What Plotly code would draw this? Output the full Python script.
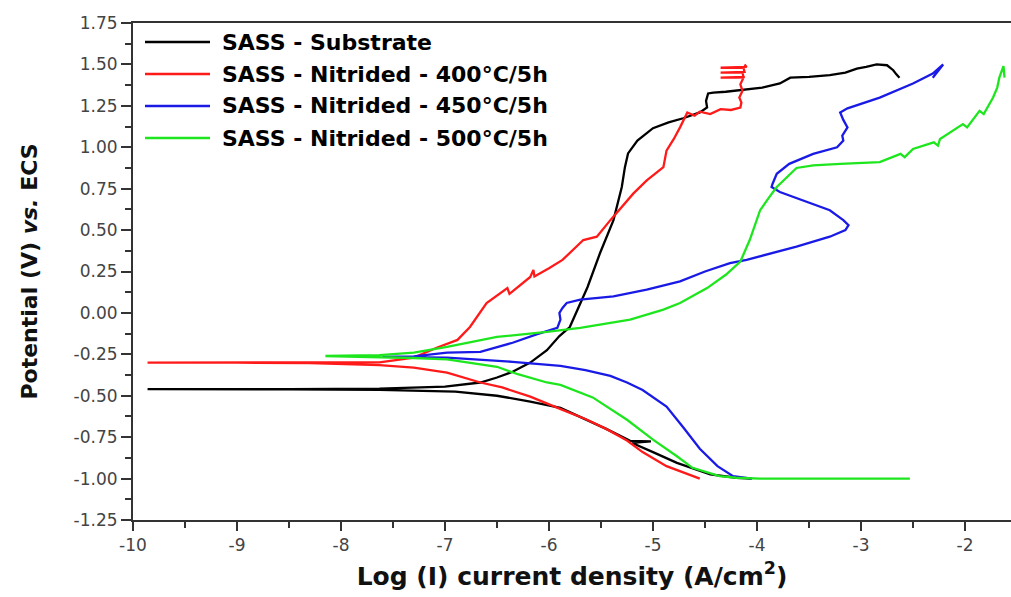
import plotly.graph_objects as go

# ---- data (log current density, potential) ----
series_names = ["SASS - Substrate", "SASS - Nitrided - 400°C/5h",
                "SASS - Nitrided - 450°C/5h", "SASS - Nitrided - 500°C/5h"]
series_colors = ["#000000", "#ff1a1a", "#1a1ae6", "#1ee61e"]

black_x = [-4.05, -4.2, -4.45, -4.77, -5.0, -5.2, -5.02, -5.22, -5.45, -5.7, -5.89, -6.18, -6.5, -6.9,
           -7.3, -7.63, -8.5, -9.2, -9.86, -9.2, -8.5, -7.63, -7.0, -6.66, -6.5, -6.35, -6.18, -6.02,
           -5.9, -5.80, -5.72, -5.63, -5.51, -5.38, -5.30, -5.27, -5.24, -5.15, -5.0, -4.85, -4.71,
           -4.55, -4.48, -4.49, -4.47, -4.42, -4.3, -4.16, -3.95, -3.78, -3.68, -3.5, -3.30, -3.15,
           -3.04, -2.95, -2.85, -2.75, -2.69, -2.66, -2.63]
black_y = [-1.0, -0.995, -0.975, -0.905, -0.84, -0.785, -0.775, -0.772, -0.70, -0.625, -0.573, -0.535,
           -0.50, -0.475, -0.468, -0.464, -0.462, -0.461, -0.46, -0.46, -0.46, -0.457, -0.445, -0.42,
           -0.39, -0.355, -0.30, -0.225, -0.14, -0.085, 0.03, 0.155, 0.36, 0.56, 0.76, 0.88, 0.963,
           1.04, 1.115, 1.15, 1.175, 1.21, 1.24, 1.28, 1.325, 1.33, 1.335, 1.345, 1.36, 1.385, 1.42,
           1.425, 1.435, 1.45, 1.475, 1.485, 1.50, 1.495, 1.465, 1.44, 1.42]

red_x = [-4.55, -4.7, -4.87, -5.10, -5.25, -5.45, -5.65, -5.87, -6.18, -6.45, -6.66, -6.98, -7.3,
         -7.63, -8.3, -9.0, -9.86, -9.0, -8.3, -7.63, -7.3, -7.08, -6.88, -6.76, -6.60, -6.45, -6.40,
         -6.38, -6.28, -6.18, -6.15, -6.14, -6.0, -5.87, -5.67, -5.54, -5.41, -5.30, -5.19, -5.06,
         -4.90, -4.87, -4.80, -4.74, -4.67, -4.60, -4.55, -4.45, -4.35, -4.25, -4.16, -4.15, -4.17,
         -4.14, -4.16, -4.13, -4.35, -4.13, -4.14, -4.35, -4.12, -4.13, -4.35, -4.10, -4.12]
red_y = [-1.0, -0.965, -0.925, -0.84, -0.77, -0.70, -0.64, -0.585, -0.505, -0.45, -0.42, -0.36, -0.33,
         -0.315, -0.303, -0.30, -0.30, -0.30, -0.30, -0.298, -0.27, -0.21, -0.163, -0.085, 0.06, 0.13,
         0.15, 0.115, 0.165, 0.217, 0.26, 0.22, 0.27, 0.32, 0.44, 0.46, 0.56, 0.64, 0.72, 0.80, 0.88,
         0.98, 1.05, 1.12, 1.21, 1.19, 1.215, 1.20, 1.23, 1.225, 1.24, 1.27, 1.30, 1.34, 1.38, 1.42,
         1.42, 1.425, 1.45, 1.45, 1.455, 1.48, 1.48, 1.485, 1.50]

blue_x = [-4.05, -4.23, -4.38, -4.55, -4.71, -4.87, -5.10, -5.25, -5.41, -5.65, -5.89, -6.35, -6.98,
          -7.3, -7.6, -7.3, -6.98, -6.66, -6.35, -6.12, -5.98, -5.92, -5.89, -5.90, -5.87, -5.83,
          -5.70, -5.38, -5.06, -4.74, -4.5, -4.26, -4.10, -3.85, -3.62, -3.30, -3.15, -3.12, -3.17,
          -3.30, -3.52, -3.78, -3.86, -3.85, -3.81, -3.69, -3.46, -3.23, -3.17, -3.18, -3.13, -3.17,
          -3.20, -3.13, -2.82, -2.50, -2.31, -2.21, -2.31]
blue_y = [-1.0, -0.985, -0.925, -0.82, -0.69, -0.565, -0.465, -0.42, -0.38, -0.345, -0.32, -0.295,
          -0.27, -0.266, -0.265, -0.262, -0.24, -0.235, -0.18, -0.13, -0.105, -0.09, -0.04, 0.0, 0.03,
          0.06, 0.08, 0.10, 0.14, 0.19, 0.25, 0.30, 0.32, 0.36, 0.40, 0.46, 0.50, 0.53, 0.56, 0.62,
          0.67, 0.73, 0.76, 0.78, 0.84, 0.90, 0.96, 1.00, 1.04, 1.07, 1.12, 1.165, 1.21, 1.235, 1.30,
          1.385, 1.445, 1.50, 1.42]

green_x = [-2.53, -3.2, -3.97, -4.2, -4.36, -4.62, -4.77, -5.0, -5.25, -5.58, -5.89, -6.02, -6.3,
           -6.50, -6.98, -7.3, -7.63, -8.15, -7.63, -7.3, -6.98, -6.50, -6.02, -5.70, -5.22, -4.90,
           -4.74, -4.48, -4.30, -4.16, -4.07, -3.97, -3.88, -3.81, -3.62, -3.46, -3.2, -2.82, -2.62,
           -2.58, -2.50, -2.30, -2.26, -2.24, -2.02, -1.98, -1.86, -1.82, -1.73, -1.69, -1.67, -1.63,
           -1.62]
green_y = [-1.0, -1.0, -1.0, -0.995, -0.985, -0.935, -0.865, -0.765, -0.645, -0.51, -0.435, -0.42,
           -0.37, -0.325, -0.28, -0.272, -0.268, -0.26, -0.255, -0.24, -0.205, -0.145, -0.115, -0.09,
           -0.04, 0.02, 0.06, 0.15, 0.23, 0.31, 0.44, 0.62, 0.70, 0.76, 0.875, 0.89, 0.90, 0.91, 0.96,
           0.94, 0.99, 1.03, 1.01, 1.05, 1.14, 1.12, 1.22, 1.20, 1.30, 1.36, 1.42, 1.49, 1.42]

x_tick_vals = [-10, -9, -8, -7, -6, -5, -4, -3, -2]
x_tick_labels = ["-10", "-9", "-8", "-7", "-6", "-5", "-4", "-3", "-2"]
y_tick_vals = [-1.25, -1.0, -0.75, -0.5, -0.25, 0.0, 0.25, 0.5, 0.75, 1.0, 1.25, 1.5, 1.75]
y_tick_labels = ["-1.25", "-1.00", "-0.75", "-0.50", "-0.25", "0.00", "0.25", "0.50", "0.75",
                 "1.00", "1.25", "1.50", "1.75"]

xs = [black_x, red_x, blue_x, green_x]
ys = [black_y, red_y, blue_y, green_y]

FONT = "DejaVu Sans"
fig = go.Figure()
for name, col, x, y in zip(series_names, series_colors, xs, ys):
    fig.add_trace(go.Scatter(x=x, y=y, mode="lines", name=name,
                             line=dict(color=col, width=2.3)))

W, H = 1011, 597
ml, mr, mt, mb = 133, 0, 23, 77
pw, ph = W - ml - mr, H - mt - mb

def px_x(p):
    return (p - ml) / pw

def px_y(p):
    return 1 - (p - mt) / ph

# manual legend (top-left, inside plot)
for i, (name, col) in enumerate(zip(series_names, series_colors)):
    yy = px_y(42 + 32 * i)
    fig.add_shape(type="line", xref="paper", yref="paper",
                  x0=px_x(145), x1=px_x(210), y0=yy, y1=yy,
                  line=dict(color=col, width=2.5))
    fig.add_annotation(xref="paper", yref="paper", x=px_x(220), y=yy,
                       xanchor="left", yanchor="middle", showarrow=False,
                       text="<b>%s</b>" % name,
                       font=dict(family=FONT, size=22, color="black"))

axis_common = dict(showgrid=False, zeroline=False, showline=True, linewidth=2,
                   linecolor="#333333", ticks="outside", tickwidth=2, tickcolor="#333333",
                   automargin=False,
                   tickfont=dict(family=FONT, size=17, color="#444444"))

fig.update_layout(
    width=W, height=H, margin=dict(l=ml, r=mr, t=mt, b=mb),
    plot_bgcolor="white", paper_bgcolor="white", showlegend=False,
    xaxis=dict(range=[-10, -10 + pw / 104.0], tickvals=x_tick_vals, ticktext=x_tick_labels,
               ticklen=9, mirror=True,
               minor=dict(dtick=0.5, tick0=-10, ticklen=6, tickwidth=2, tickcolor="#333333",
                          ticks="outside"),
               title=dict(text="<b>Log (I) current density (A/cm<sup>2</sup>)</b>",
                          font=dict(family=FONT, size=25, color="#111111"), standoff=13),
               **axis_common),
    yaxis=dict(range=[-1.25, 1.75], tickvals=y_tick_vals, ticktext=y_tick_labels,
               ticklen=10,
               minor=dict(dtick=0.125, tick0=-1.25, ticklen=6, tickwidth=2, tickcolor="#333333",
                          ticks="outside"),
               title=dict(text="<b>Potential (V) <i>vs.</i> ECS</b>",
                          font=dict(family=FONT, size=22, color="#111111"), standoff=30),
               **axis_common),
)

fig.write_html("out.html", config={"displayModeBar": False},
               post_script="document.body.style.margin='0';document.body.style.overflow='hidden';")
